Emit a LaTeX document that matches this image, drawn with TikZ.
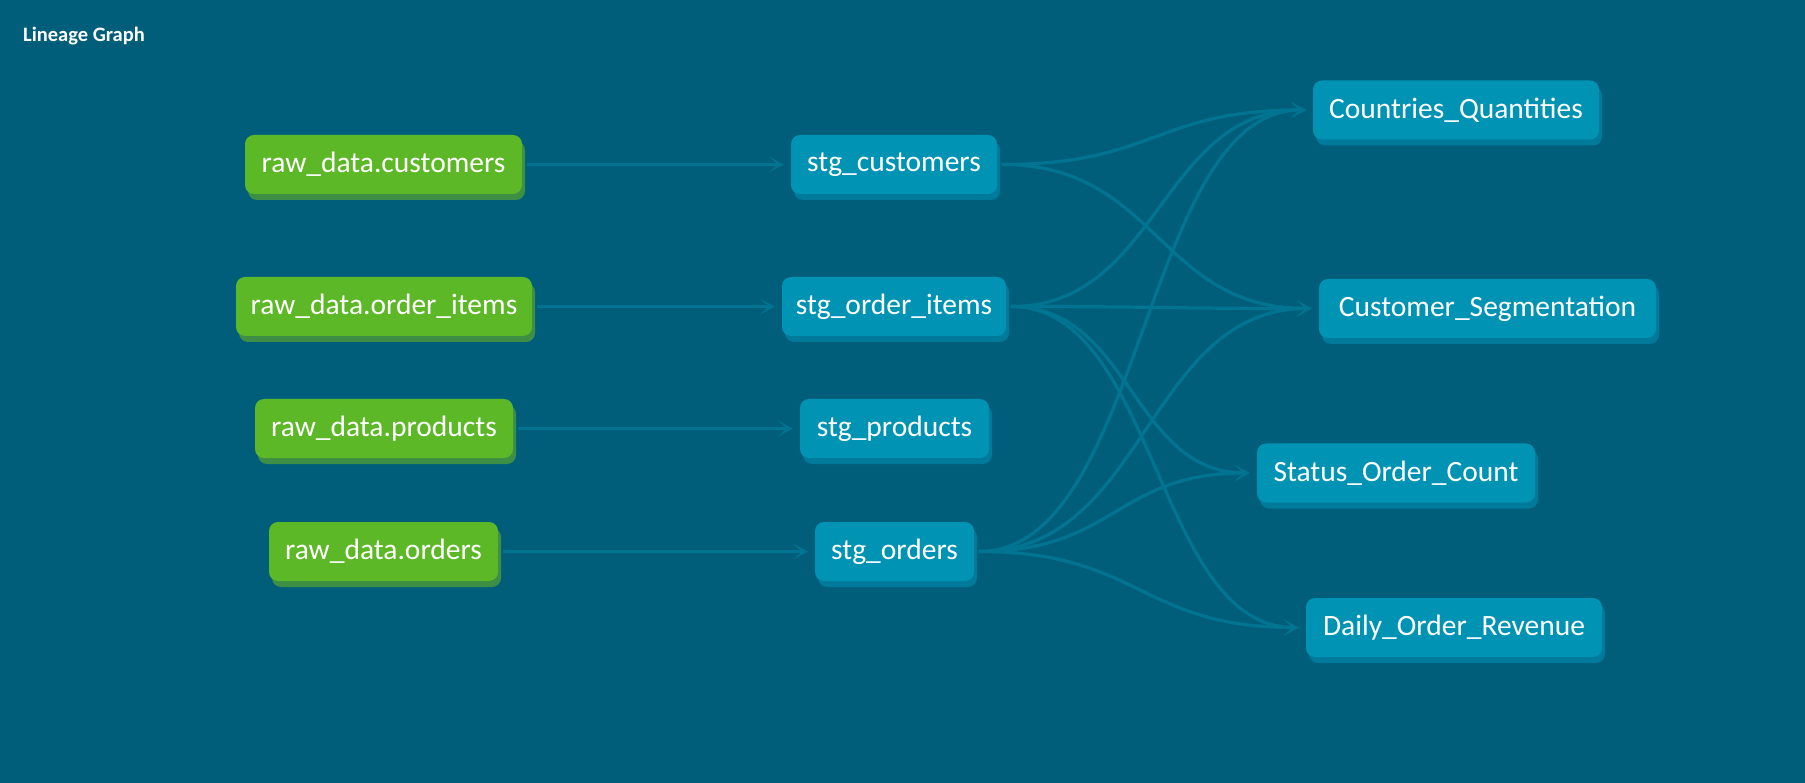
\documentclass[tikz,border=0pt]{standalone}
\usepackage{fontspec}
\setmainfont{Carlito}
\usetikzlibrary{arrows.meta,shadows,calc}
\definecolor{bgc}{HTML}{005E7A}
\definecolor{edgec}{HTML}{007491}
\definecolor{rawfill}{HTML}{5DB827}
\definecolor{rawshadow}{HTML}{3C8F45}
\definecolor{mdlfill}{HTML}{0093B4}
\definecolor{mdlshadow}{HTML}{007A9A}
\begin{document}
\begin{tikzpicture}[x=1pt,y=-1pt,
  box/.style={rounded corners=9pt, minimum height=59pt, inner sep=0pt, text=white,
    font=\fontsize{29.5}{32}\selectfont, anchor=center},
  rawbox/.style={box, fill=rawfill, drop shadow={fill=rawshadow, opacity=1, shadow xshift=3pt, shadow yshift=-6pt}},
  mdlbox/.style={box, fill=mdlfill, drop shadow={fill=mdlshadow, opacity=1, shadow xshift=3pt, shadow yshift=-6pt}},
  edge/.style={draw=edgec, line width=3.2pt, -{Stealth[length=15pt,width=16pt,inset=9pt]},
    shorten <=5pt, shorten >=7pt},
  titletext/.style={text=white, font=\bfseries\fontsize{20.5}{23}\selectfont, anchor=west, inner sep=0pt}
]
\fill[bgc] (0,0) rectangle (1805,783);
\useasboundingbox (0,0) rectangle (1805,783);

\node[titletext] (title) at (23,36) {Lineage Graph};

% sources
\node[rawbox, minimum width=277pt] (rc) at (383.5,164.5) {raw\_data.customers};
\node[rawbox, minimum width=296pt] (roi) at (384,306.5) {raw\_data.order\_items};
\node[rawbox, minimum width=258pt] (rp) at (384,428.5) {raw\_data.products};
\node[rawbox, minimum width=229pt] (ro) at (383.5,551.5) {raw\_data.orders};

% staging
\node[mdlbox, minimum width=206pt] (sc) at (894,164.5) {stg\_customers};
\node[mdlbox, minimum width=224pt] (soi) at (894,306.5) {stg\_order\_items};
\node[mdlbox, minimum width=189pt] (sp) at (894.5,428.5) {stg\_products};
\node[mdlbox, minimum width=159pt] (so) at (894.5,551.5) {stg\_orders};

% marts
\node[mdlbox, minimum width=286pt] (cq) at (1456,110) {Countries\_Quantities};
\node[mdlbox, minimum width=337pt] (cs) at (1487.5,308.5) {Customer\_Segmentation};
\node[mdlbox, minimum width=278pt] (soc) at (1396,473) {Status\_Order\_Count};
\node[mdlbox, minimum width=296pt] (dor) at (1454,627.5) {Daily\_Order\_Revenue};

% raw -> stg
\draw[edge] (rc.east) -- (sc.west);
\draw[edge] (roi.east) -- (soi.west);
\draw[edge] (rp.east) -- (sp.west);
\draw[edge] (ro.east) -- (so.west);

% stg -> marts
\draw[edge] (sc.east) .. controls ($(sc.east)+(158,0)$) and ($(cq.west)+(-158,0)$) .. (cq.west);
\draw[edge] (sc.east) .. controls ($(sc.east)+(161,0)$) and ($(cs.west)+(-161,0)$) .. (cs.west);
\draw[edge] (soi.east) .. controls ($(soi.east)+(153,0)$) and ($(cq.west)+(-153,0)$) .. (cq.west);
\draw[edge] (soi.east) .. controls ($(soi.east)+(156,0)$) and ($(cs.west)+(-156,0)$) .. (cs.west);
\draw[edge] (soi.east) .. controls ($(soi.east)+(125,0)$) and ($(soc.west)+(-125,0)$) .. (soc.west);
\draw[edge] (soi.east) .. controls ($(soi.east)+(150,0)$) and ($(dor.west)+(-150,0)$) .. (dor.west);
\draw[edge] (so.east) .. controls ($(so.east)+(170,0)$) and ($(cq.west)+(-170,0)$) .. (cq.west);
\draw[edge] (so.east) .. controls ($(so.east)+(172,0)$) and ($(cs.west)+(-172,0)$) .. (cs.west);
\draw[edge] (so.east) .. controls ($(so.east)+(141,0)$) and ($(soc.west)+(-141,0)$) .. (soc.west);
\draw[edge] (so.east) .. controls ($(so.east)+(166,0)$) and ($(dor.west)+(-166,0)$) .. (dor.west);
\end{tikzpicture}
\end{document}
